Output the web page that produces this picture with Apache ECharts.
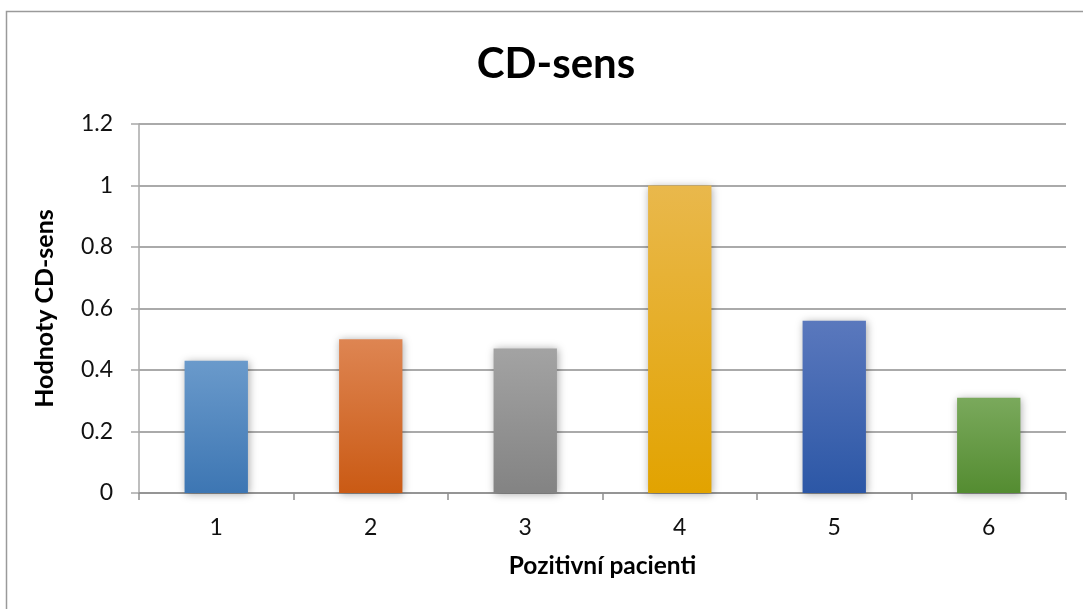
<!DOCTYPE html>
<html>
<head>
<meta charset="utf-8">
<script src="https://cdn.jsdelivr.net/npm/echarts@6/dist/echarts.min.js"></script>
<style>
  html, body { margin: 0; padding: 0; background: #fff; }
  #chart { width: 1083px; height: 609px; }
</style>
</head>
<body>
<div id="chart"></div>
<script>
// Patients with a positive result and their CD-sens value
const patients = ['1', '2', '3', '4', '5', '6'];
const cdSens = [0.43, 0.5, 0.47, 1.0, 0.56, 0.31];
// Top / bottom colours of each bar's vertical gradient
const topColors = ['#6a9acb', '#de8552', '#a3a3a3', '#e9b84c', '#5a78bd', '#7aa95c'];
const bottomColors = ['#3d76b3', '#ca5a14', '#838383', '#e2a300', '#2c57a6', '#548c31'];

const FONT = 'Lato, "Open Sans", sans-serif';
const GRID_COLOR = '#8e8e8e';

const chart = echarts.init(document.getElementById('chart'), null, { renderer: 'canvas' });

const barData = cdSens.map((v, i) => ({
  value: v,
  itemStyle: {
    color: new echarts.graphic.LinearGradient(0, 0, 0, 1, [
      { offset: 0, color: topColors[i] },
      { offset: 1, color: bottomColors[i] }
    ])
  }
}));

chart.setOption({
  backgroundColor: '#ffffff',
  animation: false,
  title: {
    text: 'CD-sens',
    left: 551,
    top: 38,
    textAlign: 'center',
    textStyle: { fontFamily: FONT, fontWeight: 'bold', fontSize: 42, color: '#000' }
  },
  graphic: [{
    type: 'rect',
    shape: { x: 6.5, y: 11.5, width: 1200, height: 800 },
    style: { fill: 'none', stroke: '#9a9a9a', lineWidth: 1.5 },
    silent: true
  }],
  grid: { left: 139, right: 17, top: 124, bottom: 116 },
  xAxis: {
    type: 'category',
    data: patients,
    name: 'Pozitivní pacienti',
    nameLocation: 'middle',
    nameGap: 61,
    nameTextStyle: { fontFamily: FONT, fontWeight: 'bold', fontSize: 24.5, color: '#000' },
    axisLine: { lineStyle: { color: GRID_COLOR, width: 1.5 } },
    axisTick: { show: true, length: 7, lineStyle: { color: GRID_COLOR, width: 1.5 } },
    axisLabel: { fontFamily: FONT, fontSize: 23, color: '#111', margin: 23 }
  },
  yAxis: {
    type: 'value',
    min: 0,
    max: 1.2,
    interval: 0.2,
    name: 'Hodnoty CD-sens',
    nameLocation: 'middle',
    nameGap: 82,
    nameTextStyle: { fontFamily: FONT, fontWeight: 'bold', fontSize: 25, color: '#000' },
    axisLine: { show: true, lineStyle: { color: '#a8a8a8', width: 1.5 } },
    axisTick: { show: true, length: 8, lineStyle: { color: '#a8a8a8', width: 1.5 } },
    axisLabel: { fontFamily: FONT, fontSize: 23, color: '#111', margin: 26 },
    splitLine: { show: true, lineStyle: { color: GRID_COLOR, width: 1.5 } }
  },
  series: [{
    type: 'bar',
    data: barData,
    barWidth: '41%',
    itemStyle: {
      shadowBlur: 8,
      shadowColor: 'rgba(0,0,0,0.35)',
      shadowOffsetX: 1,
      shadowOffsetY: 1
    }
  }]
});
</script>
</body>
</html>
